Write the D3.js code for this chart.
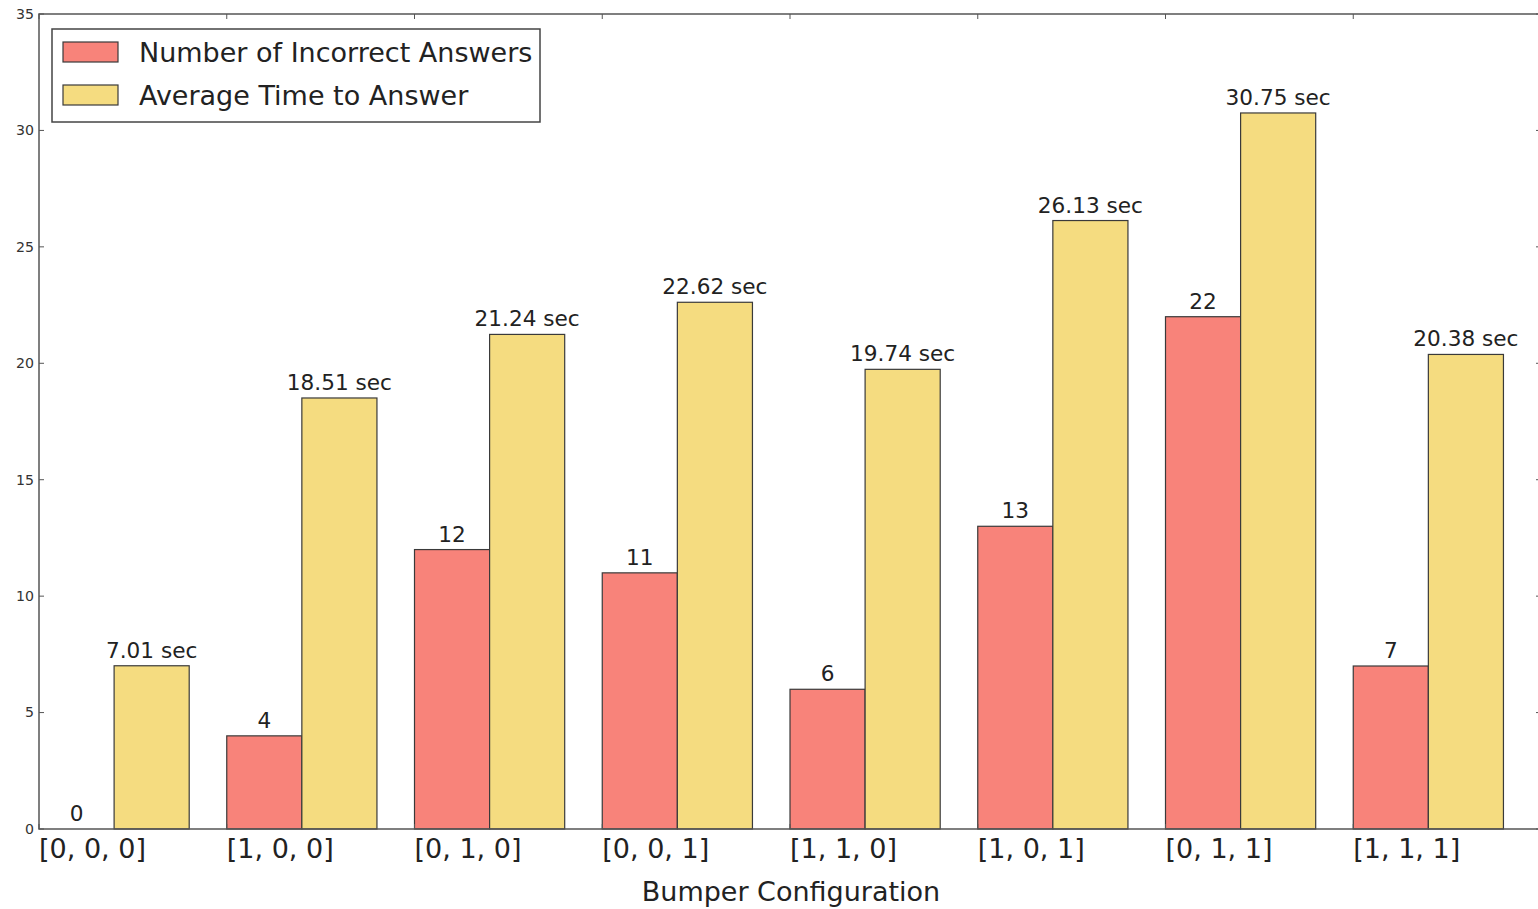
<!DOCTYPE html>
<html>
<head>
<meta charset="utf-8">
<script src="https://cdn.jsdelivr.net/npm/d3@7"></script>
<style>
  html, body { margin: 0; padding: 0; background: #fff; }
  svg { display: block; font-family: "DejaVu Sans", sans-serif; }
</style>
</head>
<body>
<svg id="chart" width="1538" height="909"></svg>
<script>
const configs = ['[0, 0, 0]', '[1, 0, 0]', '[0, 1, 0]', '[0, 0, 1]', '[1, 1, 0]', '[1, 0, 1]', '[0, 1, 1]', '[1, 1, 1]'];
const incorrect = [0, 4, 12, 11, 6, 13, 22, 7];
const avgTime = [7.01, 18.51, 21.24, 22.62, 19.74, 26.13, 30.75, 20.38];
const yTicks = [0, 5, 10, 15, 20, 25, 30, 35];
const seriesNames = ['Number of Incorrect Answers', 'Average Time to Answer'];

const RED = '#f8837a';
const YELLOW = '#f5dc80';
const EDGE = '#3a3a3a';

const mLeft = 39, mRight = 1541, mTop = 14, mBottom = 829;
const barW = 0.4;

const svg = d3.select('#chart');

const x = d3.scaleLinear().domain([0, 8]).range([mLeft, mRight]);
const y = d3.scaleLinear().domain([0, 35]).range([mBottom, mTop]);

// bars
const g = svg.append('g');
g.selectAll('.red').data(incorrect).enter().append('rect')
  .attr('x', (d, i) => x(i))
  .attr('y', d => y(d))
  .attr('width', x(barW) - x(0))
  .attr('height', d => y(0) - y(d))
  .attr('fill', RED).attr('stroke', EDGE).attr('stroke-width', 1.2);

g.selectAll('.yel').data(avgTime).enter().append('rect')
  .attr('x', (d, i) => x(i + barW))
  .attr('y', d => y(d))
  .attr('width', x(barW) - x(0))
  .attr('height', d => y(0) - y(d))
  .attr('fill', YELLOW).attr('stroke', EDGE).attr('stroke-width', 1.2);

// value labels
g.selectAll('.rl').data(incorrect).enter().append('text')
  .attr('x', (d, i) => x(i + barW / 2))
  .attr('y', d => y(d) - 8)
  .attr('text-anchor', 'middle')
  .attr('font-size', 21.6).attr('fill', '#222')
  .text(d => d);

g.selectAll('.yl').data(avgTime).enter().append('text')
  .attr('x', (d, i) => x(i + barW * 1.5))
  .attr('y', d => y(d) - 8)
  .attr('text-anchor', 'middle')
  .attr('font-size', 21.6).attr('fill', '#222')
  .text(d => d.toFixed(2) + ' sec');

// frame
svg.append('rect')
  .attr('x', mLeft).attr('y', mTop)
  .attr('width', mRight - mLeft).attr('height', mBottom - mTop)
  .attr('fill', 'none').attr('stroke', '#555').attr('stroke-width', 1.5);

// y ticks (inward, both sides)
const yt = svg.append('g');
yTicks.forEach(t => {
  yt.append('line').attr('x1', mLeft).attr('x2', mLeft + 5).attr('y1', y(t)).attr('y2', y(t))
    .attr('stroke', '#555');
  yt.append('line').attr('x1', mRight - 5).attr('x2', mRight).attr('y1', y(t)).attr('y2', y(t))
    .attr('stroke', '#555');
  yt.append('text').attr('x', mLeft - 5).attr('y', y(t)).attr('dy', '0.35em')
    .attr('text-anchor', 'end').attr('font-size', 14).attr('fill', '#333')
    .attr('textLength', String(t).length * 9).attr('lengthAdjust', 'spacingAndGlyphs')
    .text(t);
});

// x ticks (inward, top and bottom) and labels
const xt = svg.append('g');
configs.forEach((c, i) => {
  xt.append('line').attr('x1', x(i)).attr('x2', x(i)).attr('y1', mTop).attr('y2', mTop + 5)
    .attr('stroke', '#555');
  xt.append('line').attr('x1', x(i)).attr('x2', x(i)).attr('y1', mBottom - 5).attr('y2', mBottom)
    .attr('stroke', '#555');
  xt.append('text').attr('x', x(i)).attr('y', mBottom + 29)
    .attr('text-anchor', 'start').attr('font-size', 27).attr('fill', '#222')
    .text(c);
});

svg.append('text')
  .attr('x', 791).attr('y', 901)
  .attr('text-anchor', 'middle').attr('font-size', 27).attr('fill', '#222')
  .text('Bumper Configuration');

// legend
const lg = svg.append('g');
lg.append('rect').attr('x', 52).attr('y', 29).attr('width', 488).attr('height', 93)
  .attr('fill', '#fff').attr('stroke', '#444').attr('stroke-width', 1.5);
[RED, YELLOW].forEach((col, i) => {
  const cy = 52 + i * 43;
  lg.append('rect').attr('x', 63).attr('y', cy - 10).attr('width', 55).attr('height', 20)
    .attr('fill', col).attr('stroke', EDGE).attr('stroke-width', 1.2);
  lg.append('text').attr('x', 139).attr('y', cy).attr('dy', '0.36em')
    .attr('font-size', 27).attr('fill', '#222').text(seriesNames[i]);
});
</script>
</body>
</html>
